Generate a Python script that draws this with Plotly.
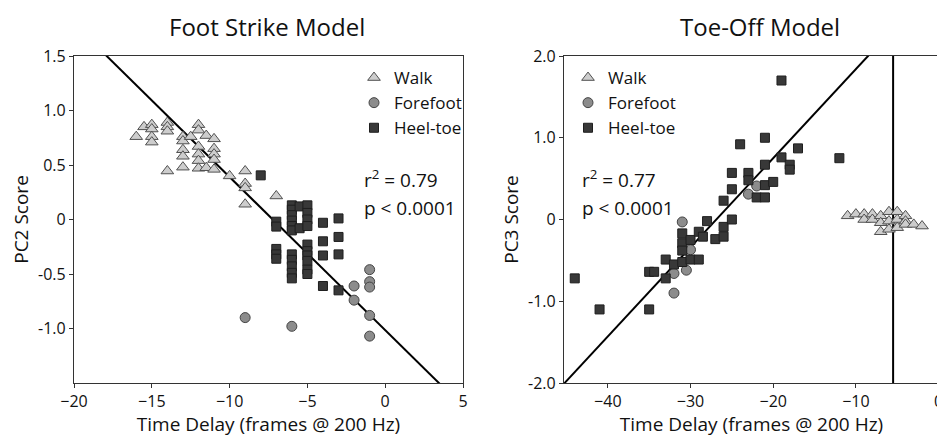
import plotly.graph_objects as go

# ---------------- data: Foot Strike Model (left) ----------------
fs_walk_x = [-16, -15.5, -15, -15, -15, -15, -14, -14, -14, -14,
             -13, -13, -13, -13, -13, -12.5, -12, -12, -12, -12, -12, -12,
             -11.5, -11.5, -11, -11, -11, -11, -11, -10, -9, -9, -9, -9, -7]
fs_walk_y = [0.76, 0.85, 0.87, 0.83, 0.76, 0.71, 0.89, 0.85, 0.81, 0.445,
             0.76, 0.72, 0.64, 0.58, 0.48, 0.76, 0.87, 0.82, 0.67, 0.60, 0.54, 0.47,
             0.77, 0.475, 0.74, 0.65, 0.60, 0.55, 0.46, 0.40, 0.445, 0.33, 0.29, 0.14, 0.216]

fs_fore_x = [-9, -6, -2, -2, -1, -1, -1, -1, -1]
fs_fore_y = [-0.90, -0.98, -0.61, -0.74, -0.46, -0.57, -0.62, -0.88, -1.07]

fs_heel_x = [-8, -7, -7, -7, -7, -7,
             -6, -6, -6, -6, -6, -6, -6, -6, -6, -6, -6,
             -5.5, -5.5,
             -5, -5, -5, -5, -5, -5, -5, -5, -5, -5,
             -4, -4, -4, -4, -3, -3, -3, -3]
fs_heel_y = [0.405, -0.02, -0.065, -0.27, -0.32, -0.36,
             0.13, 0.09, 0.04, -0.01, -0.06, -0.10, -0.32, -0.37, -0.43, -0.49, -0.54,
             0.12, -0.08,
             0.13, 0.06, 0.0, -0.06, -0.23, -0.29, -0.33, -0.38, -0.46, -0.50,
             -0.03, -0.20, -0.33, -0.61, 0.01, -0.16, -0.32, -0.65]

fs_fit_slope = -0.1405
fs_fit_intercept = -1.015
fs_fit_x = [-25, 10]

# ---------------- data: Toe-Off Model (right) ----------------
to_walk_x = [-11, -10, -9, -9, -8, -8, -7, -7, -7, -6, -6, -6,
             -5, -5, -5, -4, -4, -4, -3, -2]
to_walk_y = [0.045, 0.066, 0.066, 0.0, 0.066, 0.0, 0.045, -0.04, -0.15, 0.095, -0.02, -0.12,
             0.095, 0.0, -0.10, 0.045, -0.02, -0.06, -0.06, -0.08]

to_fore_x = [-31, -30, -32, -30.5, -32, -23, -22]
to_fore_y = [-0.03, -0.37, -0.66, -0.62, -0.90, 0.31, 0.41]

to_heel_x = [-44, -41, -35, -35, -34.4, -33, -33, -32, -31, -31, -31, -31,
             -30, -30, -29, -29, -28.5, -28, -27, -26, -26, -26,
             -25, -25, -25, -24, -23, -23, -22, -21, -21, -21, -21,
             -20, -19, -19, -18, -18, -17, -12]
to_heel_y = [-0.72, -1.10, -0.64, -1.10, -0.64, -0.49, -0.72, -0.55, -0.17, -0.29, -0.38, -0.52,
             -0.25, -0.49, -0.15, -0.49, -0.21, -0.02, -0.24, 0.23, -0.09, -0.21,
             0.57, 0.37, 0.0, 0.92, 0.57, 0.48, 0.27, 1.0, 0.67, 0.42, 0.27,
             0.46, 1.70, 0.76, 0.67, 0.61, 0.87, 0.75]

to_fit_slope = 0.109
to_fit_intercept = 2.93
to_fit_x = [-50, 5]
to_vline_x = -5.5
to_vline_y = [-2.0, 2.0]

series_names = ["Walk", "Forefoot", "Heel-toe"]

left_xticks = [-20, -15, -10, -5, 0, 5]
left_yticks = [1.5, 1.0, 0.5, 0, -0.5, -1.0]
left_yticktext = ["1.5", "1.0", "0.5", "0", "-0.5", "-1.0"]
right_xticks = [-40, -30, -20, -10, 0]
right_yticks = [2.0, 1.0, 0, -1.0, -2.0]
right_yticktext = ["2.0", "1.0", "0", "-1.0", "-2.0"]

FONT = "Open Sans"
TXT = "#111111"

walk_style = dict(symbol="triangle-up", size=11, color="#cdcdcd",
                  line=dict(color="#505050", width=1))
fore_style = dict(symbol="circle", size=10, color="#8c8c8c",
                  line=dict(color="#444444", width=1))
heel_style = dict(symbol="square", size=9, color="#383838",
                  line=dict(color="#1e1e1e", width=1))

fig = go.Figure()

def fit_line(xs, m, b):
    return [m * x + b for x in xs]

# left panel
fig.add_trace(go.Scatter(x=fs_fit_x, y=fit_line(fs_fit_x, fs_fit_slope, fs_fit_intercept),
                         mode="lines", line=dict(color="black", width=2),
                         showlegend=False, xaxis="x", yaxis="y"))
fig.add_trace(go.Scatter(x=fs_walk_x, y=fs_walk_y, mode="markers", name=series_names[0],
                         marker=walk_style, xaxis="x", yaxis="y", legend="legend"))
fig.add_trace(go.Scatter(x=fs_fore_x, y=fs_fore_y, mode="markers", name=series_names[1],
                         marker=fore_style, xaxis="x", yaxis="y", legend="legend"))
fig.add_trace(go.Scatter(x=fs_heel_x, y=fs_heel_y, mode="markers", name=series_names[2],
                         marker=heel_style, xaxis="x", yaxis="y", legend="legend"))

# right panel
fig.add_trace(go.Scatter(x=to_fit_x, y=fit_line(to_fit_x, to_fit_slope, to_fit_intercept),
                         mode="lines", line=dict(color="black", width=2),
                         showlegend=False, xaxis="x2", yaxis="y2"))
fig.add_trace(go.Scatter(x=[to_vline_x, to_vline_x], y=to_vline_y,
                         mode="lines", line=dict(color="black", width=2),
                         showlegend=False, xaxis="x2", yaxis="y2"))
fig.add_trace(go.Scatter(x=to_walk_x, y=to_walk_y, mode="markers", name=series_names[0],
                         marker=walk_style, xaxis="x2", yaxis="y2", legend="legend2"))
fig.add_trace(go.Scatter(x=to_fore_x, y=to_fore_y, mode="markers", name=series_names[1],
                         marker=fore_style, xaxis="x2", yaxis="y2", legend="legend2"))
fig.add_trace(go.Scatter(x=to_heel_x, y=to_heel_y, mode="markers", name=series_names[2],
                         marker=heel_style, xaxis="x2", yaxis="y2", legend="legend2"))

# page offset of the figure inside the html body (default body margin)
OFF = 8
W, H = 945 - OFF, 437 - OFF

def px(x):
    return (x - OFF) / W

def py(y):
    return 1 - (y - OFF) / H

ydom = [py(383), py(56)]

axis_common = dict(showline=True, linecolor="#333333", linewidth=1.2, mirror=True,
                   ticks="outside", ticklen=4, tickcolor="#333333", showgrid=False,
                   zeroline=False, automargin=False, ticklabeloverflow="allow",
                   tickfont=dict(family=FONT, size=16, color=TXT),
                   title_font=dict(family=FONT, size=19, color=TXT))

ann_font = dict(family=FONT, size=19, color=TXT)
title_font = dict(family=FONT, size=24, color=TXT)

fig.update_layout(
    width=W, height=H,
    margin=dict(l=0, r=0, t=0, b=0, autoexpand=False),
    paper_bgcolor="white", plot_bgcolor="white",
    font=dict(family=FONT, color=TXT),
    xaxis=dict(domain=[px(74), px(463)], range=[-20, 5], tickvals=left_xticks,
               anchor="y", title=dict(text="Time Delay (frames @ 200 Hz)", standoff=7),
               **axis_common),
    yaxis=dict(domain=ydom, range=[-1.5, 1.5], tickvals=left_yticks, ticktext=left_yticktext,
               anchor="x", title=dict(text="PC2 Score", standoff=4), **axis_common),
    xaxis2=dict(domain=[px(564), px(939)], range=[-45.3, 0.05], tickvals=right_xticks,
                anchor="y2", title=dict(text="Time Delay (frames @ 200 Hz)", standoff=7),
                **axis_common),
    yaxis2=dict(domain=ydom, range=[-2, 2], tickvals=right_yticks, ticktext=right_yticktext,
                anchor="x2", title=dict(text="PC3 Score", standoff=4), **axis_common),
    legend=dict(x=px(354), y=py(60), xanchor="left", yanchor="top",
                font=dict(family=FONT, size=17, color=TXT),
                bgcolor="rgba(0,0,0,0)", tracegroupgap=0, itemwidth=30),
    legend2=dict(x=px(568), y=py(60), xanchor="left", yanchor="top",
                 font=dict(family=FONT, size=17, color=TXT),
                 bgcolor="rgba(0,0,0,0)", tracegroupgap=0, itemwidth=30),
    annotations=[
        dict(text="Foot Strike Model", x=px(267), y=py(26), xref="paper", yref="paper",
             xanchor="center", yanchor="middle", showarrow=False, font=title_font),
        dict(text="Toe-Off Model", x=px(760), y=py(26), xref="paper", yref="paper",
             xanchor="center", yanchor="middle", showarrow=False, font=title_font),
        dict(text="r<sup>2</sup> = 0.79", x=px(362), y=py(179), xref="paper", yref="paper",
             xanchor="left", yanchor="middle", showarrow=False, font=ann_font),
        dict(text="p < 0.0001", x=px(362), y=py(208), xref="paper", yref="paper",
             xanchor="left", yanchor="middle", showarrow=False, font=ann_font),
        dict(text="r<sup>2</sup> = 0.77", x=px(580), y=py(179), xref="paper", yref="paper",
             xanchor="left", yanchor="middle", showarrow=False, font=ann_font),
        dict(text="p < 0.0001", x=px(580), y=py(208), xref="paper", yref="paper",
             xanchor="left", yanchor="middle", showarrow=False, font=ann_font),
    ],
)

fig.write_html("out.html")
